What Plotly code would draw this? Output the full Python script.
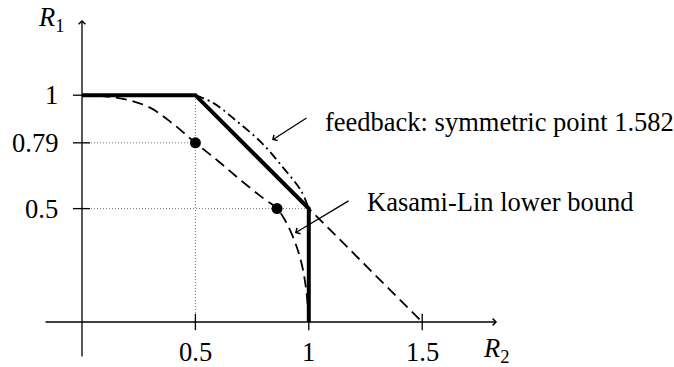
import plotly.graph_objects as go

# Capacity-region style sketch: R2 on the horizontal axis, R1 on the vertical axis
# Achievable region without feedback (thick polyline)
region_r2 = [0.0, 0.5, 1.0, 1.0]
region_r1 = [1.0, 1.0, 0.5, 0.0]

# Sum-rate line R1 + R2 = 1.5
sum_r2 = [0.5, 1.5]
sum_r1 = [1.0, 0.0]

# Feedback region boundary (symmetric point 0.791 + 0.791 = 1.582)
fb_r2 = [0.5, 0.58, 0.683, 0.791, 0.885, 0.965, 1.0]
fb_r1 = [1.0, 0.965, 0.885, 0.791, 0.683, 0.58, 0.5]

# Kasami-Lin lower bound curve
kl_r2 = [0.0, 0.1, 0.2, 0.3, 0.4, 0.5, 0.6, 0.7, 0.8, 0.86, 0.9, 0.94, 0.97, 0.99, 1.0]
kl_r1 = [1.0, 0.995, 0.98, 0.945, 0.875, 0.79, 0.71, 0.625, 0.545, 0.5, 0.44, 0.35, 0.25, 0.13, 0.0]

# Marked rate pairs
pts_r2 = [0.5, 0.86]
pts_r1 = [0.79, 0.5]

# Tick positions and labels
xtick_vals = [0.5, 1.0, 1.5]
xtick_text = ["0.5", "1", "1.5"]
ytick_vals = [0.5, 0.79, 1.0]
ytick_text = ["0.5", "0.79", "1"]

FONT = "Liberation Serif"
FS = 26.5

fig = go.Figure()

# dotted guide lines
guide_style = dict(color="#7a7a7a", width=1, dash="1px,2px")
fig.add_trace(go.Scatter(x=[0, pts_r2[0]], y=[pts_r1[0], pts_r1[0]], mode="lines", line=guide_style))
fig.add_trace(go.Scatter(x=[0.5, 0.5], y=[0, 1.0], mode="lines", line=guide_style))
fig.add_trace(go.Scatter(x=[0, 1.0], y=[0.5, 0.5], mode="lines", line=guide_style))

fig.add_trace(go.Scatter(x=sum_r2, y=sum_r1, mode="lines",
                         line=dict(color="black", width=1.8, dash="11px,6px")))
fig.add_trace(go.Scatter(x=fb_r2, y=fb_r1, mode="lines", line_shape="spline",
                         line=dict(color="black", width=1.8, dash="9px,4px,2px,4px")))
fig.add_trace(go.Scatter(x=kl_r2, y=kl_r1, mode="lines", line_shape="spline",
                         line=dict(color="black", width=1.8, dash="11px,6px")))
fig.add_trace(go.Scatter(x=region_r2, y=region_r1, mode="lines",
                         line=dict(color="black", width=4)))
fig.add_trace(go.Scatter(x=pts_r2, y=pts_r1, mode="markers",
                         marker=dict(color="black", size=11)))

shapes = []
for v in xtick_vals:
    shapes.append(dict(type="line", xref="x", yref="y", x0=v, x1=v, y0=-0.036, y1=0.036,
                       line=dict(color="black", width=1.3)))
for v in ytick_vals:
    shapes.append(dict(type="line", xref="x", yref="y", x0=-0.04, x1=0.035, y0=v, y1=v,
                       line=dict(color="black", width=1.3)))

annotations = []
# axes with arrowheads
annotations.append(dict(x=1.83, y=0, ax=-0.1675, ay=0, xref="x", yref="y", axref="x", ayref="y",
                        text="", showarrow=True, arrowhead=4, arrowsize=1, arrowwidth=1.3,
                        arrowcolor="black", standoff=0))
annotations.append(dict(x=0, y=1.332, ax=0, ay=-0.159, xref="x", yref="y", axref="x", ayref="y",
                        text="", showarrow=True, arrowhead=4, arrowsize=1, arrowwidth=1.3,
                        arrowcolor="black", standoff=0))
# tick labels
for v, t in zip(xtick_vals, xtick_text):
    annotations.append(dict(x=v, y=-0.132, xref="x", yref="y", text=t, showarrow=False,
                            xanchor="center", yanchor="middle",
                            font=dict(family=FONT, size=FS, color="black")))
for v, t in zip(ytick_vals, ytick_text):
    annotations.append(dict(x=-0.098, y=v, xref="x", yref="y", text=t, showarrow=False,
                            xanchor="right", yanchor="middle",
                            font=dict(family=FONT, size=FS, color="black")))
# axis titles
annotations.append(dict(x=-0.137, y=1.336, xref="x", yref="y", text="<i>R</i><sub>1</sub>",
                        showarrow=False, xanchor="center", yanchor="middle",
                        font=dict(family=FONT, size=FS, color="black")))
annotations.append(dict(x=1.825, y=-0.125, xref="x", yref="y", text="<i>R</i><sub>2</sub>",
                        showarrow=False, xanchor="center", yanchor="middle",
                        font=dict(family=FONT, size=FS, color="black")))
# callouts
annotations.append(dict(x=0.838, y=0.802, ax=0.9965, ay=0.904, xref="x", yref="y",
                        axref="x", ayref="y", text="", showarrow=True, arrowhead=4,
                        arrowsize=1, arrowwidth=1.3, arrowcolor="black", standoff=0))
annotations.append(dict(x=1.063, y=0.882, xref="x", yref="y",
                        text="feedback: symmetric point 1.582", showarrow=False,
                        xanchor="left", yanchor="middle",
                        font=dict(family=FONT, size=FS, color="black")))
annotations.append(dict(x=0.939, y=0.392, ax=1.182, ay=0.538, xref="x", yref="y",
                        axref="x", ayref="y", text="", showarrow=True, arrowhead=4,
                        arrowsize=1, arrowwidth=1.3, arrowcolor="black", standoff=0))
annotations.append(dict(x=1.248, y=0.529, xref="x", yref="y",
                        text="Kasami-Lin lower bound", showarrow=False,
                        xanchor="left", yanchor="middle",
                        font=dict(family=FONT, size=FS, color="black")))

scale = 226.8
fig.update_layout(
    width=674, height=367,
    margin=dict(l=0, r=0, t=0, b=0),
    paper_bgcolor="white", plot_bgcolor="white",
    showlegend=False,
    xaxis=dict(range=[-82 / scale, (674 - 82) / scale], visible=False, fixedrange=True),
    yaxis=dict(range=[(322 - 367) / scale, 322 / scale], visible=False, fixedrange=True),
    shapes=shapes,
    annotations=annotations,
)

fig.write_html("out.html")
